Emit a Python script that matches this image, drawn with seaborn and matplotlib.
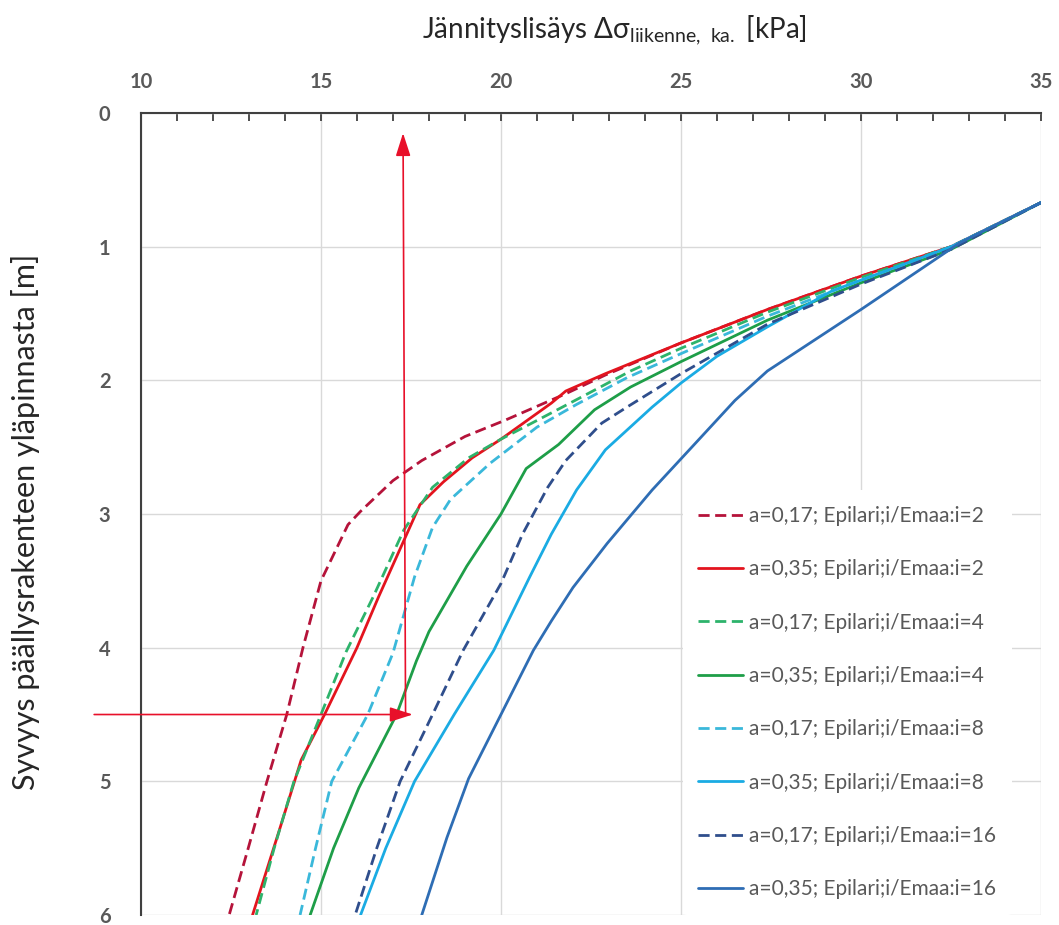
import numpy as np
import pandas as pd
import matplotlib
matplotlib.use('Agg')
import matplotlib.pyplot as plt
import matplotlib.ticker as mtick
import seaborn as sns

# stress increase [kPa] (x) vs depth below pavement surface [m] (y)
x_017_i2 = [35.0, 32.5, 30.0, 27.4, 25.0, 22.9, 21.8, 20.1, 19.0, 17.8, 17.0, 16.1, 15.75, 15.0, 14.5, 14.05, 13.5, 12.98, 12.45]
y_017_i2 = [0.67, 1.0, 1.22, 1.47, 1.72, 1.96, 2.1, 2.3, 2.42, 2.6, 2.75, 2.98, 3.08, 3.5, 4.0, 4.5, 5.0, 5.5, 6.0]

x_035_i2 = [35.0, 32.5, 30.0, 27.4, 25.0, 22.9, 21.8, 21.4, 20.0, 19.2, 18.4, 17.75, 17.3, 16.6, 16.0, 15.1, 14.45, 13.85, 13.1]
y_035_i2 = [0.67, 1.0, 1.22, 1.47, 1.72, 1.95, 2.08, 2.17, 2.44, 2.58, 2.76, 2.93, 3.2, 3.62, 4.0, 4.5, 4.84, 5.36, 6.0]

x_017_i4 = [35.0, 32.5, 30.0, 27.4, 25.0, 23.6, 22.2, 21.0, 20.0, 19.1, 18.1, 17.3, 16.45, 15.7, 15.0, 14.25, 13.7, 13.2]
y_017_i4 = [0.67, 1.0, 1.23, 1.49, 1.76, 1.93, 2.13, 2.3, 2.44, 2.58, 2.8, 3.12, 3.62, 4.03, 4.5, 5.0, 5.5, 6.0]

x_035_i4 = [35.0, 32.5, 30.0, 27.4, 25.0, 23.6, 22.6, 21.6, 20.7, 20.0, 19.05, 18.0, 17.65, 17.1, 16.05, 15.35, 14.7]
y_035_i4 = [0.67, 1.02, 1.27, 1.55, 1.86, 2.05, 2.22, 2.48, 2.66, 3.0, 3.39, 3.88, 4.1, 4.5, 5.05, 5.5, 6.0]

x_017_i8 = [35.0, 32.5, 30.0, 27.4, 25.0, 23.5, 22.1, 21.0, 19.7, 18.6, 18.1, 17.6, 17.0, 16.3, 15.3, 14.85, 14.42]
y_017_i8 = [0.67, 1.01, 1.25, 1.52, 1.8, 1.98, 2.18, 2.35, 2.62, 2.89, 3.1, 3.47, 4.04, 4.5, 5.0, 5.5, 6.0]

x_035_i8 = [35.0, 32.5, 30.0, 29.2, 27.4, 26.0, 25.0, 24.2, 22.9, 22.1, 21.4, 20.8, 19.8, 18.7, 17.6, 16.8, 16.1]
y_035_i8 = [0.67, 1.0, 1.25, 1.33, 1.6, 1.82, 2.02, 2.2, 2.52, 2.82, 3.15, 3.47, 4.02, 4.5, 5.0, 5.5, 6.0]

x_017_i16 = [35.0, 32.5, 30.0, 27.4, 25.0, 23.5, 22.8, 21.8, 21.3, 20.6, 20.0, 18.95, 18.1, 17.2, 16.55, 15.95]
y_017_i16 = [0.67, 1.02, 1.28, 1.58, 1.95, 2.2, 2.32, 2.6, 2.8, 3.15, 3.52, 4.02, 4.5, 5.0, 5.5, 6.0]

x_035_i16 = [35.0, 32.75, 30.0, 27.4, 26.5, 25.3, 24.2, 22.95, 22.0, 21.4, 20.9, 20.0, 19.1, 18.5, 17.8]
y_035_i16 = [0.67, 0.97, 1.47, 1.93, 2.15, 2.5, 2.82, 3.22, 3.55, 3.8, 4.02, 4.5, 4.98, 5.42, 6.0]

labels = ['a=0,17; Epilari;i/Emaa:i=2', 'a=0,35; Epilari;i/Emaa:i=2',
          'a=0,17; Epilari;i/Emaa:i=4', 'a=0,35; Epilari;i/Emaa:i=4',
          'a=0,17; Epilari;i/Emaa:i=8', 'a=0,35; Epilari;i/Emaa:i=8',
          'a=0,17; Epilari;i/Emaa:i=16', 'a=0,35; Epilari;i/Emaa:i=16']

# reading arrows (stress at 4.5 m depth)
arrow_h_x = [8.7, 17.55]
arrow_h_y = [4.5, 4.5]
arrow_v_x = [17.35, 17.28]
arrow_v_y = [4.5, 0.15]

xs_all = [x_017_i2, x_035_i2, x_017_i4, x_035_i4, x_017_i8, x_035_i8, x_017_i16, x_035_i16]
ys_all = [y_017_i2, y_035_i2, y_017_i4, y_035_i4, y_017_i8, y_035_i8, y_017_i16, y_035_i16]

colors = ['#B5133A', '#E3141E', '#2DB36B', '#1E9E48', '#3AB8DA', '#1AABE3', '#2F4E8C', '#2E6DB4']
dash_list = [(4, 2), '', (4, 2), '', (4, 2), '', (4, 2), '']


if __name__ == '__main__':
    df = pd.concat([pd.DataFrame({'stress': xs, 'depth': ys, 'case': lab})
                    for xs, ys, lab in zip(xs_all, ys_all, labels)], ignore_index=True)

    sns.set_theme(style='white')
    plt.rcParams['font.family'] = ['Lato', 'DejaVu Sans']
    plt.rcParams['mathtext.fontset'] = 'custom'
    plt.rcParams['mathtext.rm'] = 'Lato'

    fig, ax = plt.subplots(figsize=(10.59, 9.25), dpi=100)
    fig.subplots_adjust(left=0.1331, right=0.983, top=0.8778, bottom=0.0108)

    sns.lineplot(data=df, x='stress', y='depth', hue='case', style='case',
                 palette=dict(zip(labels, colors)), dashes=dict(zip(labels, dash_list)),
                 sort=False, estimator=None, linewidth=2.0, legend=False, ax=ax)

    # arrows
    arr = dict(arrowstyle='-|>,head_length=1.4,head_width=0.45', color='#E8102A',
               lw=1.2, shrinkA=0, shrinkB=0, mutation_scale=10)
    ax.annotate('', xy=(arrow_h_x[1], arrow_h_y[1]), xytext=(arrow_h_x[0], arrow_h_y[0]),
                arrowprops=arr, annotation_clip=False)
    ax.annotate('', xy=(arrow_v_x[1], arrow_v_y[1]), xytext=(arrow_v_x[0], arrow_v_y[0]),
                arrowprops=arr, annotation_clip=False)

    # axes
    ax.set_xlim(10, 35)
    ax.set_ylim(6, 0)
    ax.xaxis.set_major_locator(mtick.MultipleLocator(5))
    ax.xaxis.set_minor_locator(mtick.MultipleLocator(1))
    ax.yaxis.set_major_locator(mtick.MultipleLocator(1))
    ax.yaxis.set_minor_locator(mtick.MultipleLocator(0.5))
    ax.xaxis.tick_top()
    ax.xaxis.set_label_position('top')
    ax.tick_params(axis='both', which='both', direction='in', length=6, width=1.3, color='#404040')
    ax.tick_params(axis='x', which='major', pad=15, labelsize=14.5, labelcolor='#595959')
    ax.tick_params(axis='y', which='major', pad=22, labelsize=14.5, labelcolor='#595959')
    for lab in ax.get_xticklabels() + ax.get_yticklabels():
        lab.set_fontweight('bold')

    ax.grid(True, which='major', color='#D9D9D9', linewidth=1.0)
    ax.set_axisbelow(True)
    for side in ['right', 'bottom']:
        ax.spines[side].set_visible(False)
    for side in ['left', 'top']:
        ax.spines[side].set_color('#404040')
        ax.spines[side].set_linewidth(1.5)

    ax.set_xlabel(r'Jännityslisäys Δσ$_{\mathrm{liikenne,\ ka.}}$ [kPa]', fontsize=20, color='#262626')
    ax.set_ylabel('Syvyys päällysrakenteen yläpinnasta [m]', fontsize=22, color='#262626')
    ax.xaxis.set_label_coords(0.526, 1.103)
    ax.xaxis.label.set_va('center')
    ax.yaxis.set_label_coords(-0.128, 0.49)
    ax.yaxis.label.set_va('center')

    leg = ax.legend(handles=ax.lines[:8], labels=labels, loc='lower left',
                    bbox_to_anchor=(0.602, 0.0), frameon=True, fontsize=15,
                    labelspacing=1.6, handlelength=2.15, handletextpad=0.3,
                    borderpad=0.75, borderaxespad=0)
    leg.get_frame().set_edgecolor('none')
    leg.get_frame().set_facecolor('white')
    leg.get_frame().set_alpha(1)
    for t in leg.get_texts():
        t.set_color('#595959')

    plt.savefig('out.png')
    plt.close(fig)
